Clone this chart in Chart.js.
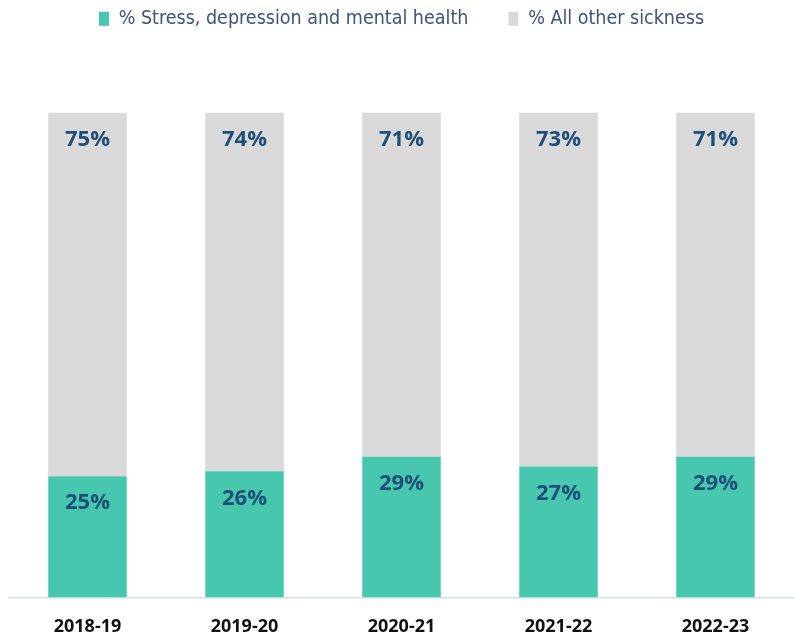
<!DOCTYPE html>
<html>
<head>
<meta charset="utf-8">
<script src="https://cdn.jsdelivr.net/npm/chart.js@4"></script>
<style>
  html, body { margin: 0; padding: 0; background: #fff; }
  #wrap { width: 794px; height: 633px; position: relative; }
</style>
</head>
<body>
<div id="wrap"><canvas id="chartSickness"></canvas></div>
<script>
const years = ['2018-19', '2019-20', '2020-21', '2021-22', '2022-23'];
const stressPct = [25, 26, 29, 27, 29];
const otherPct = [75, 74, 71, 73, 71];

const COLORS = {
  green: '#47c7ae',
  grey: '#d9d9d9',
  label: '#1f4e79',
  legend: '#3e5475',
  axis: '#d6e0f0',
};

// ── Value labels near the top of each segment ─────────────────
const segmentLabels = {
  id: 'segmentLabels',
  afterDatasetsDraw(chart) {
    const ctx = chart.ctx;
    ctx.save();
    ctx.font = "bold 22px 'Open Sans', sans-serif";
    ctx.fillStyle = COLORS.label;
    ctx.textAlign = 'center';
    ctx.textBaseline = 'middle';
    chart.data.datasets.forEach((ds, i) => {
      chart.getDatasetMeta(i).data.forEach((bar, j) => {
        ctx.fillText(ds.data[j] + '%', bar.x, bar.y + 27);
      });
    });
    ctx.restore();
  }
};

new Chart(document.getElementById('chartSickness'), {
  type: 'bar',
  data: {
    labels: years,
    datasets: [
      {
        label: '% Stress, depression and mental health',
        data: stressPct,
        backgroundColor: COLORS.green,
        barPercentage: 0.5, categoryPercentage: 1,
      },
      {
        label: '% All other sickness',
        data: otherPct,
        backgroundColor: COLORS.grey,
        barPercentage: 0.5, categoryPercentage: 1,
      }
    ]
  },
  options: {
    responsive: true, maintainAspectRatio: false,
    animation: false,
    layout: { padding: { left: 9, right: 0, top: -31, bottom: -16 } },
    plugins: {
      legend: {
        position: 'top',
        labels: {
          boxWidth: 10, boxHeight: 14, padding: 40,
          color: COLORS.legend,
          font: { family: "'DejaVu Sans Condensed', sans-serif", size: 19.5 }
        },
        onClick: null
      },
      tooltip: { enabled: false }
    },
    scales: {
      x: {
        stacked: true,
        grid: { display: false },
        border: { color: COLORS.axis, width: 1.5 },
        ticks: { color: '#111', padding: 11, font: { family: "'Open Sans', sans-serif", size: 18, weight: 'bold' } }
      },
      y: {
        stacked: true, min: 0, max: 100, display: false
      }
    }
  },
  plugins: [segmentLabels, {
    id: 'legendGap',
    beforeInit(chart) {
      const fit = chart.legend.fit;
      chart.legend.fit = function () {
        fit.bind(chart.legend)();
        this.height += 74;
      };
    }
  }]
});
</script>
</body>
</html>
